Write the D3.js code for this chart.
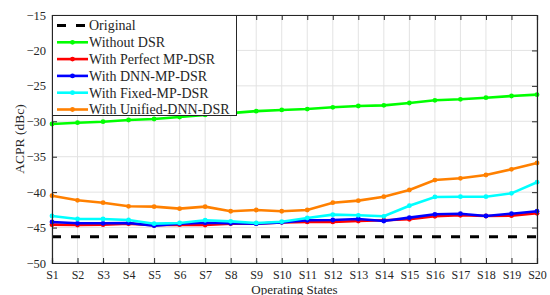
<!DOCTYPE html>
<html>
<head>
<meta charset="utf-8">
<script src="https://cdn.jsdelivr.net/npm/d3@7"></script>
<style>
  body { margin: 0; background: #fff; }
  svg text { font-family: "Liberation Serif", "DejaVu Serif", serif; }
</style>
</head>
<body>
<svg id="chart" width="550" height="295"></svg>
<script>
// Chart data
const states = ["S1","S2","S3","S4","S5","S6","S7","S8","S9","S10",
                "S11","S12","S13","S14","S15","S16","S17","S18","S19","S20"];
const yTicks = [-50, -45, -40, -35, -30, -25, -20, -15];

const original = [-46.3,-46.3,-46.3,-46.3,-46.3,-46.3,-46.3,-46.3,-46.3,-46.3,
                  -46.3,-46.3,-46.3,-46.3,-46.3,-46.3,-46.3,-46.3,-46.3,-46.3];
const withoutDSR = [-30.38,-30.2,-30.06,-29.82,-29.68,-29.4,-29.1,-28.85,-28.57,-28.4,
                    -28.27,-28.03,-27.84,-27.75,-27.42,-27.04,-26.9,-26.67,-26.43,-26.24];
const perfectMP = [-44.59,-44.64,-44.59,-44.45,-44.68,-44.59,-44.64,-44.45,-44.45,-44.26,
                   -44.21,-44.21,-44.07,-43.97,-43.83,-43.41,-43.27,-43.37,-43.32,-42.99];
const dnnMP = [-44.21,-44.4,-44.4,-44.35,-44.73,-44.45,-44.31,-44.4,-44.45,-44.26,
               -43.97,-43.93,-43.79,-44.07,-43.6,-43.13,-43.04,-43.37,-43.04,-42.7];
const fixedMP = [-43.37,-43.79,-43.79,-43.93,-44.45,-44.35,-43.97,-44.12,-44.35,-44.17,
                 -43.65,-43.18,-43.27,-43.41,-41.91,-40.68,-40.64,-40.64,-40.17,-38.6];
const unifiedDNN = [-40.5,-41.15,-41.49,-42.0,-42.05,-42.33,-42.05,-42.7,-42.52,-42.7,
                    -42.52,-41.49,-41.2,-40.64,-39.7,-38.29,-38.05,-37.58,-36.78,-35.89];

const seriesNames = ["Original","Without DSR","With Perfect MP-DSR","With DNN-MP-DSR",
                     "With Fixed-MP-DSR","With Unified-DNN-DSR"];
const seriesValues = [original, withoutDSR, perfectMP, dnnMP, fixedMP, unifiedDNN];
const seriesColors = ["#000000","#00ff00","#ff0000","#0000ff","#00ffff","#ff8000"];

// Plot box
const margin = { left: 52, right: 13, top: 15, bottom: 32 };
const width = 550, height = 295;
const innerW = width - margin.left - margin.right;
const innerH = height - margin.top - margin.bottom;
const serif = "'Liberation Serif', 'DejaVu Serif', serif";

const svg = d3.select("#chart");
const g = svg.append("g").attr("transform", `translate(${margin.left},${margin.top})`);

const x = d3.scalePoint().domain(states).range([0, innerW]);
const y = d3.scaleLinear().domain([-50, -15]).range([innerH, 0]);

// grid lines
g.append("g").selectAll("line").data(states).enter().append("line")
  .attr("x1", d => x(d)).attr("x2", d => x(d))
  .attr("y1", 0).attr("y2", innerH)
  .attr("stroke", "#e3e3e3").attr("stroke-width", 1);
g.append("g").selectAll("line").data(yTicks).enter().append("line")
  .attr("x1", 0).attr("x2", innerW)
  .attr("y1", d => y(d)).attr("y2", d => y(d))
  .attr("stroke", "#e3e3e3").attr("stroke-width", 1);

// series
const line = d3.line().x((d, i) => x(states[i])).y(d => y(d));
seriesValues.forEach((vals, k) => {
  const path = g.append("path").datum(vals)
    .attr("d", line)
    .attr("fill", "none")
    .attr("stroke", seriesColors[k])
    .attr("stroke-width", k === 0 ? 3 : 2.6);
  if (k === 0) {
    path.attr("stroke-dasharray", "9,10");
  } else {
    g.append("g").selectAll("circle").data(vals).enter().append("circle")
      .attr("cx", (d, i) => x(states[i])).attr("cy", d => y(d))
      .attr("r", 2.4).attr("fill", seriesColors[k]);
  }
});

// axes (inward ticks on all sides)
const axisColor = "#262626";
const axBottom = g.append("g").attr("transform", `translate(0,${innerH})`)
  .call(d3.axisBottom(x).tickSize(-5).tickPadding(9));
const axTop = g.append("g").call(d3.axisTop(x).tickSize(-5).tickFormat(""));
const axLeft = g.append("g").call(d3.axisLeft(y).tickValues(yTicks).tickSize(-5).tickPadding(6));
const axRight = g.append("g").attr("transform", `translate(${innerW},0)`)
  .call(d3.axisRight(y).tickValues(yTicks).tickSize(-5).tickFormat(""));
[axBottom, axTop, axLeft, axRight].forEach(a => {
  a.attr("font-family", serif);
  a.select(".domain").attr("stroke", axisColor).attr("stroke-width", 1.2);
  a.selectAll(".tick line").attr("stroke", axisColor);
  a.selectAll("text").attr("fill", axisColor).attr("font-family", serif)
    .style("font-size", "12.5px");
});
axBottom.selectAll("text").attr("dy", "0.55em").style("font-size", "12px");

// axis titles
svg.append("text")
  .attr("x", margin.left + innerW / 2).attr("y", 293.5)
  .attr("text-anchor", "middle").attr("fill", axisColor).attr("font-family", serif)
  .style("font-size", "13px").text("Operating States");
svg.append("text")
  .attr("transform", `translate(24,${margin.top + innerH / 2}) rotate(-90)`)
  .attr("text-anchor", "middle").attr("fill", axisColor).attr("font-family", serif)
  .style("font-size", "13.5px").text("ACPR (dBc)");

// legend
const legend = g.append("g");
legend.append("rect")
  .attr("x", 0.5).attr("y", 0.5).attr("width", 184).attr("height", 100)
  .attr("fill", "#fff").attr("stroke", axisColor).attr("stroke-width", 1);
seriesNames.forEach((name, k) => {
  const ly = 10.5 + k * 16.8;
  legend.append("line")
    .attr("x1", 5).attr("x2", 36).attr("y1", ly).attr("y2", ly)
    .attr("stroke", seriesColors[k]).attr("stroke-width", k === 0 ? 3 : 2.6)
    .attr("stroke-dasharray", k === 0 ? "9,10" : null);
  if (k > 0) {
    legend.append("circle").attr("cx", 20.5).attr("cy", ly).attr("r", 2.4)
      .attr("fill", seriesColors[k]);
  }
  legend.append("text")
    .attr("x", 37).attr("y", ly + 4.8).attr("fill", axisColor).attr("font-family", serif)
    .style("font-size", "14px").text(name);
});
</script>
</body>
</html>
